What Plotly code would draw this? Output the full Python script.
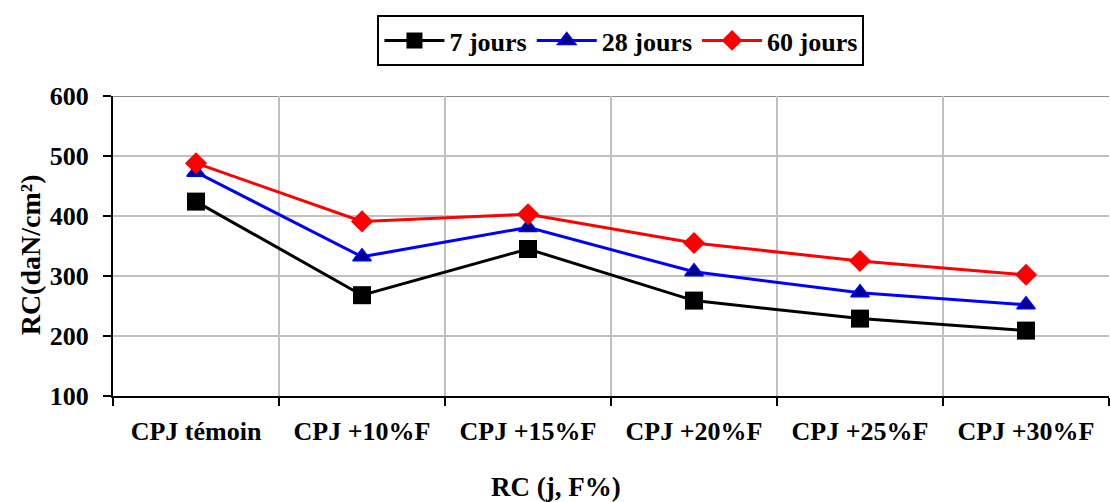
import plotly.graph_objects as go

categories = ["CPJ témoin", "CPJ +10%F", "CPJ +15%F", "CPJ +20%F", "CPJ +25%F", "CPJ +30%F"]
j7 = [424, 268, 345, 259, 229, 209]
j28 = [473, 332, 381, 307, 272, 252]
j60 = [488, 391, 403, 355, 325, 302]

FONT = "Liberation Serif, Times New Roman, Times, serif"

fig = go.Figure()
fig.add_trace(go.Scatter(x=categories, y=j7, name="7 jours", mode="lines+markers",
                         line=dict(color="black", width=3),
                         marker=dict(symbol="square", size=18, color="black")))
fig.add_trace(go.Scatter(x=categories, y=j28, name="28 jours", mode="lines+markers",
                         line=dict(color="#0000ff", width=3),
                         marker=dict(symbol="triangle-up", size=16, color="#00008b",
                                     line=dict(color="#0000ff", width=1.5))))
fig.add_trace(go.Scatter(x=categories, y=j60, name="60 jours", mode="lines+markers",
                         line=dict(color="#ff0000", width=3),
                         marker=dict(symbol="diamond", size=17, color="#ff0000")))

fig.update_layout(
    width=1110, height=502,
    margin=dict(l=113, r=1, t=96, b=106),
    paper_bgcolor="white", plot_bgcolor="white",
    font=dict(family=FONT, size=26, color="black"),
    showlegend=True,
    legend=dict(orientation="h", x=0.51, xanchor="center", y=1.27, yanchor="top",
                bordercolor="black", borderwidth=2,
                font=dict(family=FONT, size=26, color="black", weight="bold"),
                itemwidth=60, tracegroupgap=0),
    xaxis=dict(type="category", range=[-0.5, 5.5], tickson="boundaries",
               showgrid=True, gridcolor="#c0c0c0", gridwidth=2,
               showline=True, linecolor="black", linewidth=2,
               ticks="outside", ticklen=8, tickwidth=2, tickcolor="black",
               ticklabelstandoff=11,
               tickfont=dict(family=FONT, size=26, color="black", weight="bold")),
    yaxis=dict(range=[100, 600], dtick=100, tick0=100,
               showgrid=True, gridcolor="#c0c0c0", gridwidth=2,
               showline=True, linecolor="black", linewidth=2,
               ticks="outside", ticklen=8, tickwidth=2, tickcolor="black",
               ticklabelstandoff=9, zeroline=False,
               tickfont=dict(family=FONT, size=26, color="black", weight="bold")),
    shapes=[dict(type="line", xref="paper", yref="y", x0=0, x1=1, y0=600, y1=600,
                 line=dict(color="#8c8c8c", width=2), layer="below")],
    annotations=[
        dict(text="RC (j, F%)", xref="paper", yref="paper", x=(556 - 113) / 996,
             y=(396 - 487) / 300,
             xanchor="center", yanchor="middle", showarrow=False,
             font=dict(family=FONT, size=27, color="black", weight="bold")),
        dict(text="RC(daN/cm²)", xref="paper", yref="paper", x=-0.083,
             y=(396 - 255) / 300,
             xanchor="center", yanchor="middle", textangle=-90, showarrow=False,
             font=dict(family=FONT, size=28, color="black", weight="bold")),
    ],
)

fig.write_html("out.html")
